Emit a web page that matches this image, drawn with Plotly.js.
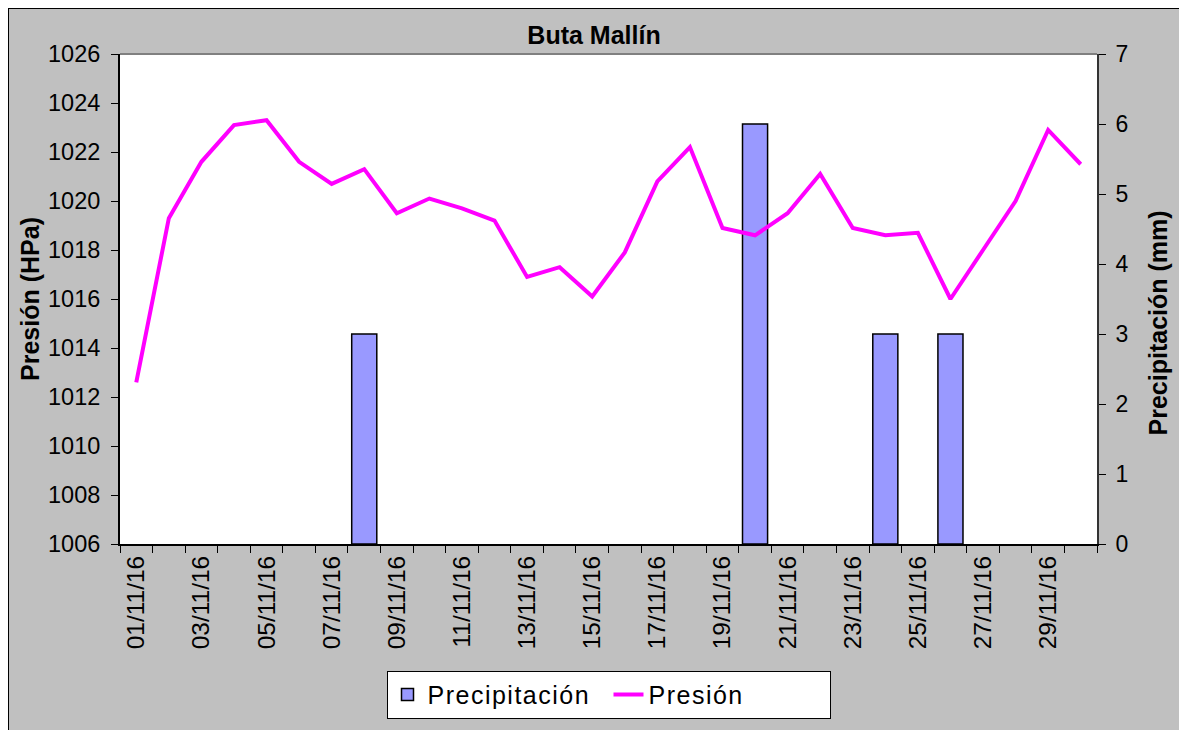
<!DOCTYPE html>
<html>
<head>
<meta charset="utf-8">
<script src="https://cdn.plot.ly/plotly-3.0.1.min.js"></script>
<style>
  html, body { margin: 0; padding: 0; background: #ffffff; width: 1179px; height: 730px; overflow: hidden; }
  #frame { position: absolute; left: 8px; top: 8px; width: 1180px; height: 730px; background: #c0c0c0; border-top: 1px solid #000; border-left: 1px solid #000; }
  #chart { position: absolute; left: 0; top: 0; width: 1170px; height: 721px; }
  .legendtext { letter-spacing: 1.5px; }
</style>
</head>
<body>
<div id="frame"><div id="chart"></div></div>
<script>
// Categories (days of November 2016)
const fechas = ['01/11/16','02/11/16','03/11/16','04/11/16','05/11/16','06/11/16','07/11/16','08/11/16','09/11/16','10/11/16',
                '11/11/16','12/11/16','13/11/16','14/11/16','15/11/16','16/11/16','17/11/16','18/11/16','19/11/16','20/11/16',
                '21/11/16','22/11/16','23/11/16','24/11/16','25/11/16','26/11/16','27/11/16','28/11/16','29/11/16','30/11/16'];
// Pressure (hPa)
const presion = [1012.6, 1019.3, 1021.6, 1023.1, 1023.3, 1021.6, 1020.7, 1021.3, 1019.5, 1020.1,
                 1019.7, 1019.2, 1016.9, 1017.3, 1016.1, 1017.9, 1020.8, 1022.2, 1018.9, 1018.6,
                 1019.5, 1021.1, 1018.9, 1018.6, 1018.7, 1016.0, 1018.0, 1020.0, 1022.9, 1021.5];
// Precipitation (mm)
const precipitacion = [0, 0, 0, 0, 0, 0, 0, 3, 0, 0,
                       0, 0, 0, 0, 0, 0, 0, 0, 0, 6,
                       0, 0, 0, 3, 0, 3, 0, 0, 0, 0];
// Tick labels shown on the x axis (every other day)
const etiquetasX = fechas.map((d, i) => (i % 2 === 0 ? d : ''));

const FONT = 'Liberation Sans, Arial, sans-serif';

const traces = [
  {
    type: 'bar', name: 'Precipitación', x: fechas,
    // days without rain draw no bar (avoids an outline on the axis)
    y: precipitacion.map(v => (v > 0 ? v : null)), yaxis: 'y',
    width: 0.77,
    marker: { color: '#9999ff', line: { color: '#000000', width: 1.5 } }
  },
  {
    type: 'scatter', mode: 'lines', name: 'Presión', x: fechas, y: presion, yaxis: 'y2',
    line: { color: '#ff00ff', width: 4 }
  }
];

const layout = {
  width: 1170, height: 721,
  margin: { l: 111, r: 82, t: 45, b: 185, pad: 0 },
  paper_bgcolor: 'rgba(0,0,0,0)',
  plot_bgcolor: '#ffffff',
  font: { family: FONT, color: '#000000', size: 22 },
  title: {
    text: '<b>Buta Mallín</b>', font: { family: FONT, size: 25, color: '#000' },
    x: 0.5, xref: 'container', xanchor: 'center', y: 0.963, yref: 'container', yanchor: 'middle'
  },
  showlegend: true,
  legend: {
    orientation: 'h', x: 0.5, xanchor: 'center', y: -0.256, yanchor: 'top',
    bgcolor: '#ffffff', bordercolor: '#000000', borderwidth: 1,
    font: { family: FONT, size: 25, color: '#000' },
    traceorder: 'normal', entrywidth: 176
  },
  xaxis: {
    type: 'category', range: [-0.5, 29.5],
    tickmode: 'array', tickvals: fechas, ticktext: etiquetasX,
    tickson: 'boundaries', ticks: 'outside', ticklen: 7, tickwidth: 1, tickcolor: '#000',
    tickangle: -90, tickfont: { family: FONT, size: 24.5, color: '#000' },
    showline: true, linecolor: '#000', linewidth: 2,
    showgrid: false, zeroline: false, fixedrange: true
  },
  yaxis: {
    side: 'right', range: [0, 7], dtick: 1, tick0: 0,
    ticks: 'outside', ticklen: 7, tickwidth: 1, tickcolor: '#000', ticklabelstandoff: 5,
    tickfont: { family: FONT, size: 23, color: '#000' },
    showline: true, linecolor: '#333', linewidth: 2,
    showgrid: false, zeroline: false
  },
  yaxis2: {
    overlaying: 'y', side: 'left', range: [1006, 1026], dtick: 2, tick0: 1006,
    ticks: 'outside', ticklen: 7, tickwidth: 1, tickcolor: '#000', ticklabelstandoff: 6,
    tickfont: { family: FONT, size: 23.5, color: '#000' },
    showline: true, linecolor: '#000', linewidth: 2,
    showgrid: false, zeroline: false,
    title: { text: '<b>Presión (HPa)</b>', font: { family: FONT, size: 25, color: '#000' }, standoff: 1 }
  },
  annotations: [
    { text: '<b>Precipitación (mm)</b>', xref: 'paper', yref: 'paper',
      x: (1158 - 120) / 977, y: (545 - 324) / 491, xanchor: 'center', yanchor: 'middle',
      textangle: -90, showarrow: false, font: { family: FONT, size: 25, color: '#000' } }
  ],
  shapes: [
    { type: 'line', xref: 'paper', yref: 'paper', x0: 0, x1: 1, y0: 1, y1: 1,
      line: { color: '#808080', width: 2 }, layer: 'above' }
  ]
};

Plotly.newPlot('chart', traces, layout, { displayModeBar: false, staticPlot: true });
</script>
</body>
</html>
